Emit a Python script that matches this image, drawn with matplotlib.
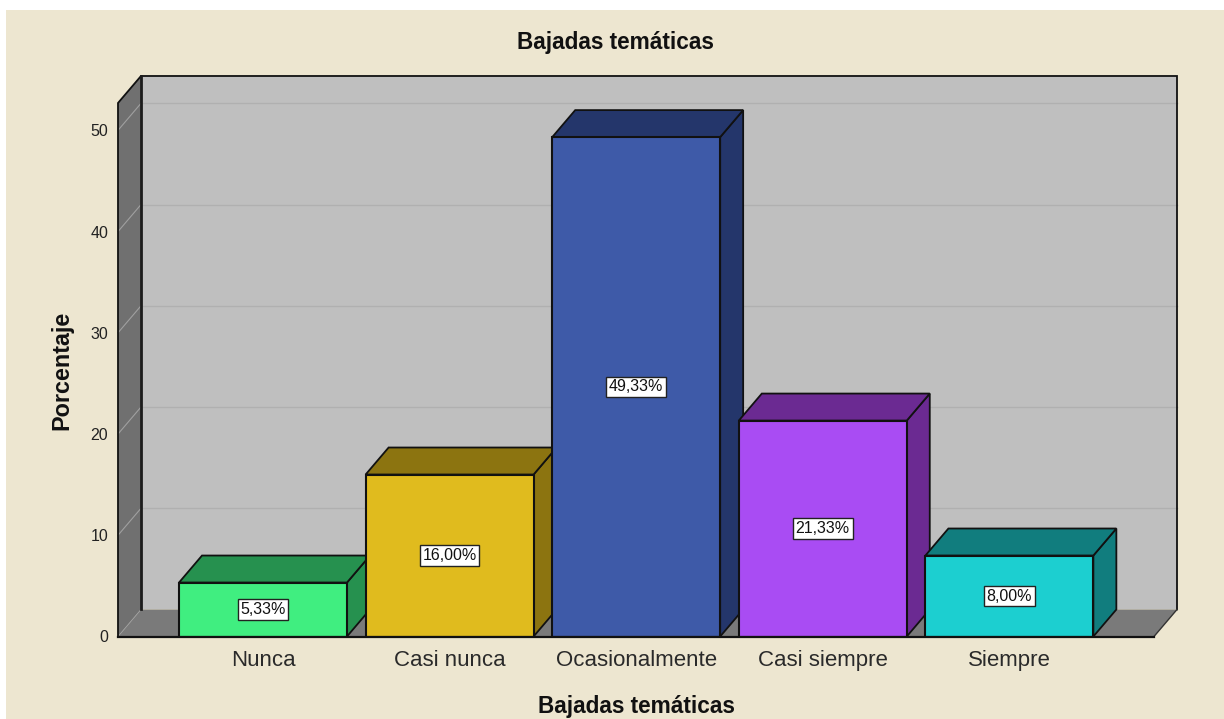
import matplotlib
matplotlib.use("Agg")
import matplotlib.pyplot as plt
from matplotlib.patches import Rectangle

plt.rcParams['font.family'] = ['Liberation Sans', 'DejaVu Sans']

categorias = ["Nunca", "Casi nunca", "Ocasionalmente", "Casi siempre", "Siempre"]
porcentajes = [5.33, 16.00, 49.33, 21.33, 8.00]
etiquetas = ["5,33%", "16,00%", "49,33%", "21,33%", "8,00%"]
colores = ["#40EE80", "#E0BB1E", "#3E5AA8", "#A94CF3", "#1CCFD0"]
colores_osc = ["#26914F", "#8C7410", "#24366B", "#6B2A92", "#117D7E"]
ticks_y = [0, 10, 20, 30, 40, 50]

W, H = 1224, 719
# depth of the fake 3d box, in data units
DX = 23 / 186.6
DY = 27 / 10.12
ANCHO = 0.9
XMIN, XMAX = -0.777, 4.775
YMAX = 52.7

fig = plt.figure(figsize=(W / 100, H / 100), dpi=100, facecolor="white")
fig.patches.append(Rectangle((6 / W, 0), 1 - 6 / W, 1 - 10 / H, transform=fig.transFigure,
                             facecolor="#EDE6D0", edgecolor="none", zorder=-10))

ax = fig.add_axes([118 / W, 1 - 636.5 / H, (1154 - 118) / W, (636.5 - 103) / H])
ax.set_xlim(XMIN, XMAX)
ax.set_ylim(0, YMAX)
ax.patch.set_visible(False)
for s in ax.spines.values():
    s.set_visible(False)

negro = "#111111"

# back wall, left wall, floor
ax.fill([XMIN + DX, XMAX + DX, XMAX + DX, XMIN + DX], [DY, DY, YMAX + DY, YMAX + DY],
        facecolor="#BFBFBF", edgecolor="none", clip_on=False, zorder=1)
ax.fill([XMIN, XMIN + DX, XMIN + DX, XMIN], [0, DY, YMAX + DY, YMAX],
        facecolor="#707070", edgecolor="none", clip_on=False, zorder=1)
ax.fill([XMIN, XMAX, XMAX + DX, XMIN + DX], [0, 0, DY, DY],
        facecolor="#7A7A7A", edgecolor="none", clip_on=False, zorder=1)

# grid on the walls
for t in ticks_y[1:]:
    ax.plot([XMIN + DX, XMAX + DX], [t + DY, t + DY], color="#B0B0B0", lw=1.0, clip_on=False, zorder=2)
    ax.plot([XMIN, XMIN + DX], [t, t + DY], color="#A0A0A0", lw=0.8, clip_on=False, zorder=2)
ax.plot([XMIN, XMIN + DX], [0, DY], color="#A0A0A0", lw=0.6, clip_on=False, zorder=2)

# box outline
ax.plot([XMIN, XMIN, XMIN + DX, XMAX + DX, XMAX + DX], [0, YMAX, YMAX + DY, YMAX + DY, DY],
        color=negro, lw=1.3, clip_on=False, zorder=3, solid_joinstyle="miter")
ax.plot([XMIN + DX, XMIN + DX], [DY, YMAX + DY], color="#1c1c1c", lw=2.0, clip_on=False, zorder=3)
ax.plot([XMAX + DX, XMAX], [DY, 0], color="#333333", lw=1.0, clip_on=False, zorder=3)
ax.plot([XMIN, XMAX], [0, 0], color=negro, lw=1.6, clip_on=False, zorder=8)

# bars
for i, v in enumerate(porcentajes):
    z = 4 + i * 0.1
    x0, x1 = i - ANCHO / 2, i + ANCHO / 2
    ax.fill([x1, x1 + DX, x1 + DX, x1], [0, DY, v + DY, v], facecolor=colores_osc[i],
            edgecolor=negro, lw=1.3, clip_on=False, zorder=z)
    ax.fill([x0, x0 + DX, x1 + DX, x1], [v, v + DY, v + DY, v], facecolor=colores_osc[i],
            edgecolor=negro, lw=1.3, clip_on=False, zorder=z)
    ax.bar(i, v, width=ANCHO, color=colores[i], edgecolor=negro, lw=1.5, zorder=z + 0.05)
    ax.text(i, v / 2, etiquetas[i], ha="center", va="center", fontsize=11.5, color="#111111", zorder=9,
            bbox=dict(boxstyle="square,pad=0.17", facecolor="white", edgecolor="#222222", lw=1.0))

ax.set_xticks(range(len(categorias)))
ax.set_xticklabels(categorias, fontsize=16, color="#2a2a2a")
ax.set_yticks(ticks_y)
ax.set_yticklabels([str(t) for t in ticks_y], fontsize=11.5, color="#222222")
ax.tick_params(axis="both", length=0)
ax.tick_params(axis="x", pad=10)
ax.tick_params(axis="y", pad=7)

fig.text(615 / W, 1 - 42 / H, "Bajadas temáticas", ha="center", va="center",
         fontsize=16.3, fontweight="bold", color="#111111")
fig.text(636 / W, 1 - 706 / H, "Bajadas temáticas", ha="center", va="center",
         fontsize=16.3, fontweight="bold", color="#111111")
fig.text(62 / W, 1 - 370 / H, "Porcentaje", ha="center", va="center", rotation=90,
         fontsize=16.8, fontweight="bold", color="#111111")

fig.savefig("out.png", dpi=100, facecolor=fig.get_facecolor())
